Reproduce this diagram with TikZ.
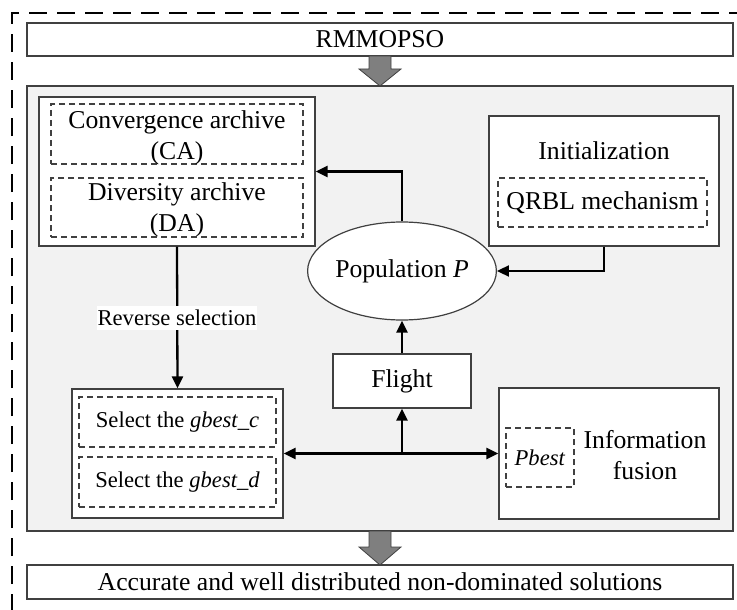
\documentclass[tikz,border=0pt]{standalone}
\usepackage{fontspec}
\setmainfont{Liberation Serif}
\usetikzlibrary{shapes.geometric,arrows.meta}
\definecolor{panelgray}{HTML}{F2F2F2}
\definecolor{blockgray}{HTML}{7F7F7F}
\definecolor{edgegray}{HTML}{404040}
\begin{document}
\begin{tikzpicture}[x=1pt, y=-1pt,
  every node/.style={font=\fontsize{25.7}{31}\selectfont, inner sep=0pt},
  solidbox/.style={draw=edgegray, line width=1.2pt, fill=white, rectangle},
  dashbox/.style={draw=edgegray, line width=1.1pt, dash pattern=on 6pt off 4pt, rectangle, align=center},
  smalltext/.style={font=\fontsize{22.6}{27}\selectfont},
  flow/.style={line width=2.3pt, -{Triangle[length=12pt,width=11pt]}},
  bigarrow/.style={fill=blockgray, draw=edgegray, line width=0.8pt}]
  \useasboundingbox (0,0) rectangle (737,610);
  \clip (0,0) rectangle (737,610);

  %% 外枠（破線）
  \draw[line width=1.2pt, dash pattern=on 18pt off 10pt] (12,640) -- (12,13) -- (760,13);

  %% 上下の帯
  \node[solidbox, minimum width=706pt, minimum height=33pt] (top) at (380,39.5) {RMMOPSO};
  \node[solidbox, minimum width=706pt, minimum height=34pt] (bottom) at (380,582)
    {Accurate and well distributed non-dominated solutions};

  %% 灰色の領域
  \filldraw[fill=panelgray, draw=edgegray, line width=1.2pt] (27,86) rectangle (733,531);

  %% 太い矢印
  \filldraw[bigarrow] (369,56) -- (391,56) -- (391,69) -- (401,69) -- (380,86)
    -- (359,69) -- (369,69) -- cycle;
  \filldraw[bigarrow] (369,531) -- (391,531) -- (391,547) -- (401,547) -- (380,565)
    -- (359,547) -- (369,547) -- cycle;

  %% アーカイブ
  \node[solidbox, minimum width=276pt, minimum height=149pt] (arch) at (177,171.5) {};
  \node[dashbox, minimum width=252pt, minimum height=60pt] (ca) at (177,134) {};
  \node[dashbox, minimum width=252pt, minimum height=59pt] (da) at (177,207.5) {};
  \node[align=center] (catext) at (177,138) {Convergence archive\\(CA)};
  \node[align=center] (datext) at (177,209.5) {Diversity archive\\(DA)};

  %% 初期化
  \node[solidbox, minimum width=230pt, minimum height=130pt] (init) at (604,181) {};
  \node (inittext) at (604,151) {Initialization};
  \node[dashbox, minimum width=209pt, minimum height=49pt] (qrbl) at (602.5,202.5) {QRBL mechanism};

  %% 個体群と飛行
  \node[ellipse, draw=edgegray, line width=1.2pt, fill=white, minimum width=170pt,
    minimum height=98pt] (pop) at (402,271) {Population \textit{P}};
  \node[solidbox, minimum width=138pt, minimum height=54pt] (flight) at (402,381) {Flight};

  %% gbest の選択
  \node[solidbox, minimum width=211pt, minimum height=129pt] (sel) at (177.5,453.5) {};
  \node[dashbox, smalltext, minimum width=197pt, minimum height=50pt] (gc) at (177.5,422)
    {Select the \textit{gbest\_c}};
  \node[dashbox, smalltext, minimum width=197pt, minimum height=50pt] (gd) at (177.5,482)
    {Select the \textit{gbest\_d}};

  %% 情報融合
  \node[solidbox, minimum width=220pt, minimum height=131pt] (info) at (609,453.5) {};
  \node[dashbox, smalltext, minimum width=68pt, minimum height=59pt] (pbest) at (540,457.5)
    {\textit{Pbest}};
  \node[align=center] (infotext) at (645,455) {Information\\fusion};

  %% 接続
  \coordinate (junc) at (402,453.5);
  \draw[flow] (pop.north) |- (arch.east);
  \draw[flow] (init.south) |- (pop.east);
  \draw[flow] (arch.south) -- (sel.north);
  \node[fill=white, smalltext, inner xsep=1pt, inner ysep=4pt] (revlab) at (177,318)
    {Reverse selection};
  \draw[flow] (junc) -- (sel.east);
  \draw[flow] (junc) -- (info.west);
  \draw[flow] (junc) -- (flight.south);
  \draw[flow] (flight.north) -- (pop.south);
\end{tikzpicture}
\end{document}
